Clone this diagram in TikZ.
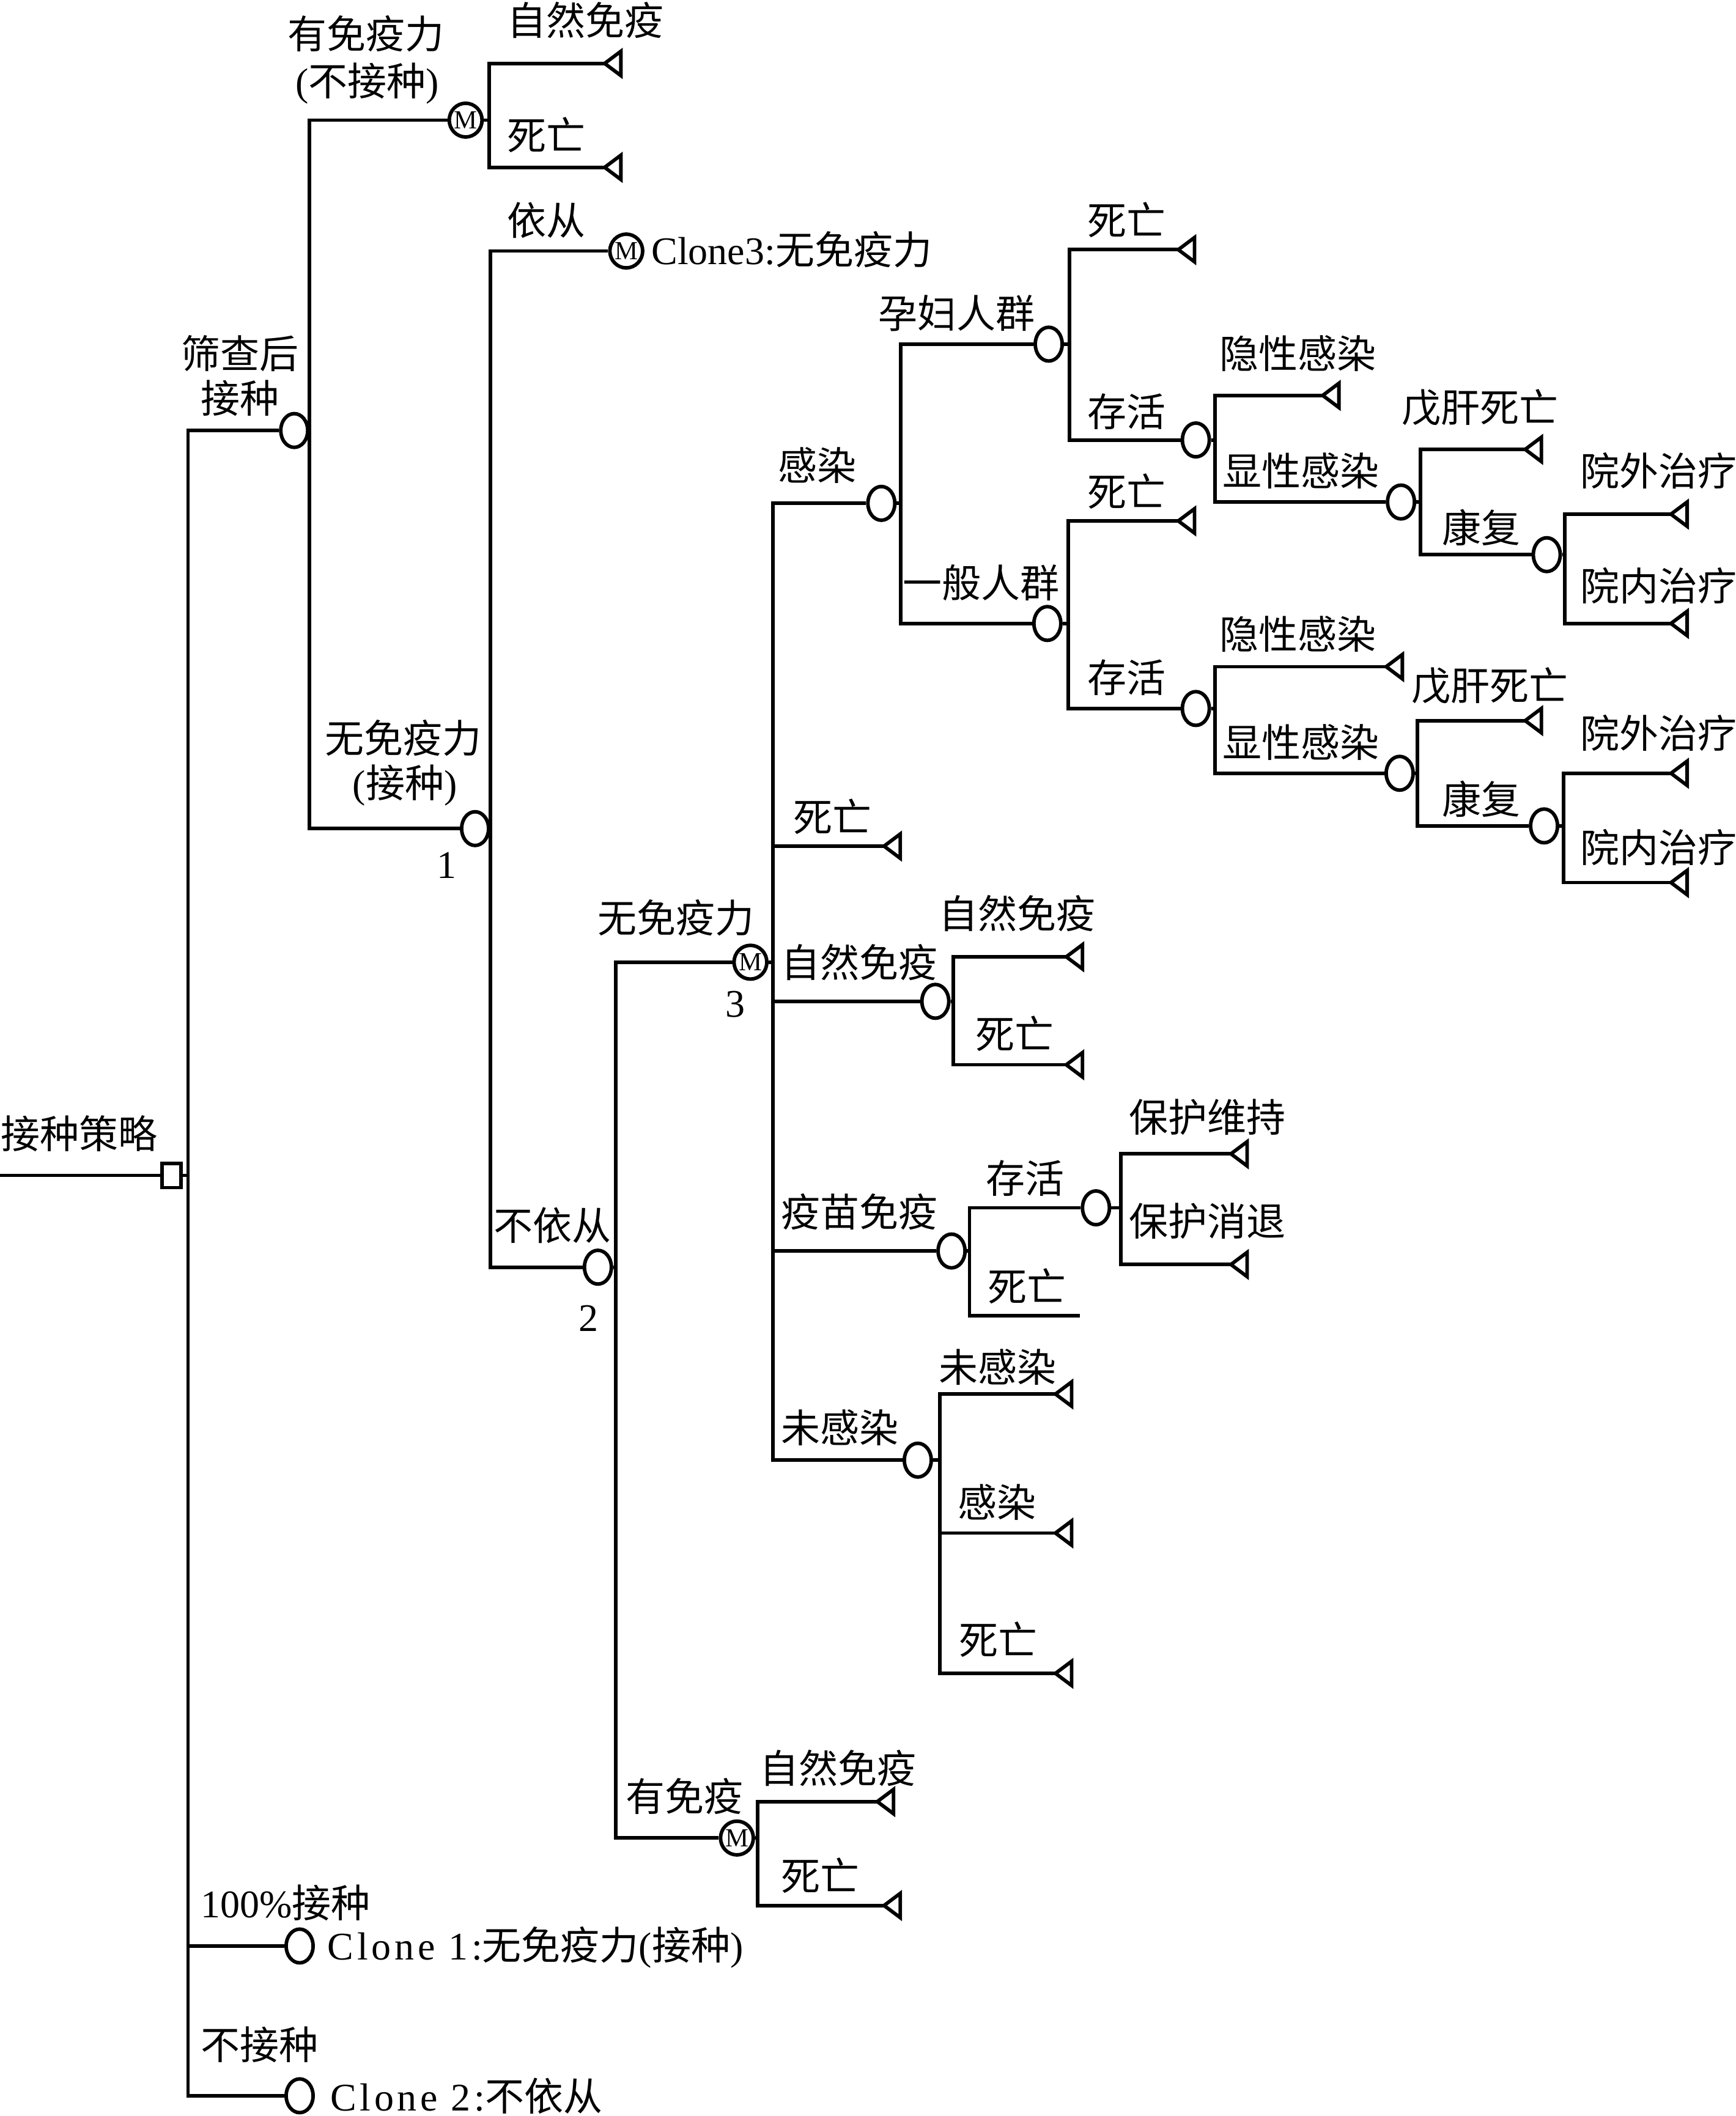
\documentclass[tikz,border=0pt]{standalone}
\usepackage{fontspec}
\setmainfont{Liberation Serif}
\newfontfamily\cjk{Noto Sans CJK SC}
\newfontfamily\wideserif[LetterSpace=9]{Liberation Serif}
\usetikzlibrary{shapes.geometric}
\tikzset{
  ln/.style={line width=0.75pt},
  ch/.style={ellipse, draw, line width=0.75pt, minimum width=2.0mm, minimum height=2.5mm, inner sep=0pt},
  mk/.style={ch, font=\rmfamily\fontsize{5.5pt}{5.5pt}\selectfont},
  dec/.style={rectangle, draw, line width=0.75pt, minimum width=1.4mm, minimum height=1.8mm, inner sep=0pt},
  lbl/.style={anchor=west, inner sep=0pt, font=\cjk\fontsize{8.25pt}{10pt}\selectfont},
  lblc/.style={lbl, anchor=center},
  term/.pic={\draw[line width=0.75pt] (0,0) -- (12,-9) -- (12,9) -- cycle;}
}
\newcommand\lab[4]{\node[lbl] (#1) at (#2,#3) {#4};}
\newcommand\labc[4]{\node[lblc] (#1) at (#2,#3) {#4};}
\newcommand\term[3]{\coordinate (#1) at (#2,#3); \pic at (#1) {term};}
\begin{document}
\begin{tikzpicture}[x=0.1mm, y=-0.1mm]
\useasboundingbox (0,0) rectangle (1286,1568);

% ---------- nodes ----------
\node[dec] (root) at (127,871) {};
\coordinate (start) at (0,871);
\node[ch] (cS) at (218,319) {};
\node[ch] (c100) at (222,1442) {};
\node[ch] (c0) at (222,1553) {};
\node[mk] (cImm) at (345,89) {M};
\node[ch] (c1) at (352,614) {};
\node[mk] (cC) at (464,186) {M};
\node[ch] (c2) at (443,939) {};
\node[mk] (cNo) at (556,713) {M};
\node[mk] (cHas) at (546,1362) {M};
\node[ch] (cInf) at (653,373) {};
\node[ch] (cNat) at (693,742) {};
\node[ch] (cVac) at (705,927) {};
\node[ch] (cSv) at (812,895) {};
\node[ch] (cUn) at (680,1082) {};
\node[ch] (cPreg) at (777,255) {};
\node[ch] (cPS) at (886,326) {};
\node[ch] (cPV) at (1038,372) {};
\node[ch] (cPR) at (1146,411) {};
\node[ch] (cGen) at (776,462) {};
\node[ch] (cGS) at (886,525) {};
\node[ch] (cGV) at (1037,573) {};
\node[ch] (cGR) at (1144,612) {};

% terminals
\term{tI1}{448}{47}
\term{tI2}{448}{124}
\term{tH1}{650}{1335}
\term{tH2}{655}{1412}
\term{tD}{655}{627}
\term{tN1}{790}{709}
\term{tN2}{790}{789}
\coordinate (eVD) at (800,975);
\term{tS1}{912}{855}
\term{tS2}{912}{937}
\term{tU1}{782}{1033}
\term{tU2}{782}{1136}
\term{tU3}{782}{1240}
\term{tP1}{873}{185}
\term{tPS}{980}{293}
\term{tPV}{1130}{333}
\term{tPR1}{1238}{381}
\term{tPR2}{1238}{462}
\term{tG1}{873}{386}
\term{tGS}{1027}{494}
\term{tGV}{1130}{534}
\term{tGR1}{1238}{573}
\term{tGR2}{1238}{654}

% ---------- connectors ----------
\begin{scope}[ln]
\draw (start) -- (root.west);
\draw (root.east) -- ++(4,0) coordinate (jR);
\draw (jR) |- (cS.west);
\draw (jR) |- (c100.west);
\draw (jR) |- (c0.west);

\draw (cS.east) |- (cImm.west);
\draw (cS.east) |- (c1.west);

\draw (cImm.east) -- ++(4,0) coordinate (jI);
\draw (jI) |- (tI1);
\draw (jI) |- (tI2);

\draw (c1.east) |- (cC.west);
\draw (c1.east) |- (c2.west);

\draw (c2.east) -- ++(2,0) coordinate (j2);
\draw (j2) |- (cNo.west);
\draw (j2) |- (cHas.west);

\draw (cHas.east) -- ++(2,0) coordinate (jH);
\draw (jH) |- (tH1);
\draw (jH) |- (tH2);

\draw (cNo.east) -- ++(3,0) coordinate (jN);
\draw (jN) |- (cInf.west);
\draw (jN) |- (tD);
\draw (jN) |- (cNat.west);
\draw (jN) |- (cVac.west);
\draw (jN) |- (cUn.west);

\draw (cNat.east) -- ++(2,0) coordinate (jNa);
\draw (jNa) |- (tN1);
\draw (jNa) |- (tN2);

\draw (cVac.east) -- ++(2,0) coordinate (jV);
\draw (jV) |- (cSv.west);
\draw (jV) |- (eVD);

\draw (cSv.east) -- ++(7,0) coordinate (jS);
\draw (jS) |- (tS1);
\draw (jS) |- (tS2);

\draw (cUn.east) -- ++(5,0) coordinate (jU);
\draw (jU) |- (tU1);
\draw (jU) |- (tU2);
\draw (jU) |- (tU3);

\draw (cInf.east) -- ++(3,0) coordinate (jInf);
\draw (jInf) |- (cPreg.west);
\draw (jInf) |- (cGen.west);

\draw (cPreg.east) -- ++(4,0) coordinate (jP);
\draw (jP) |- (tP1);
\draw (jP) |- (cPS.west);
\draw (cPS.east) -- ++(3,0) coordinate (jPS);
\draw (jPS) |- (tPS);
\draw (jPS) |- (cPV.west);
\draw (cPV.east) -- ++(3,0) coordinate (jPV);
\draw (jPV) |- (tPV);
\draw (jPV) |- (cPR.west);
\draw (cPR.east) -- ++(2,0) coordinate (jPR);
\draw (jPR) |- (tPR1);
\draw (jPR) |- (tPR2);

\draw (cGen.east) -- ++(4,0) coordinate (jG);
\draw (jG) |- (tG1);
\draw (jG) |- (cGS.west);
\draw (cGS.east) -- ++(3,0) coordinate (jGS);
\draw (jGS) |- (tGS);
\draw (jGS) |- (cGV.west);
\draw (cGV.east) -- ++(2,0) coordinate (jGV);
\draw (jGV) |- (tGV);
\draw (jGV) |- (cGR.west);
\draw (cGR.east) -- ++(3,0) coordinate (jGR);
\draw (jGR) |- (tGR1);
\draw (jGR) |- (tGR2);
\end{scope}

% ---------- labels ----------
\lab{l1}{0}{840}{接种策略}
\labc{l2}{178}{262}{筛查后}
\labc{l3}{178}{295}{接种}
\labc{l4}{271}{25}{有免疫力}
\labc{l5}{272}{62}{{\rmfamily(}不接种{\rmfamily)}}
\lab{l6}{375}{15}{自然免疫}
\lab{l7}{375}{100}{死亡}
\labc{l8}{299}{547}{无免疫力}
\labc{l9}{300}{582}{{\rmfamily(}接种{\rmfamily)}}
\labc{n1}{331}{641}{\rmfamily 1}
\lab{l10}{375}{163}{依从}
\lab{l11}{482}{185}{{\rmfamily Clone3:}无免疫力}
\lab{l12}{365}{908}{不依从}
\labc{n2}{436}{977}{\rmfamily 2}
\lab{l13}{442}{680}{无免疫力}
\labc{n3}{545}{744}{\rmfamily 3}
\lab{l14}{463}{1331}{有免疫}
\lab{l15}{562}{1310}{自然免疫}
\lab{l16}{578}{1390}{死亡}
\lab{l17}{576}{345}{感染}
\lab{l18}{587}{605}{死亡}
\lab{l19}{578}{713}{自然免疫}
\lab{l20}{695}{677}{自然免疫}
\lab{l21}{722}{766}{死亡}
\lab{l22}{578}{898}{疫苗免疫}
\lab{l23}{730}{873}{存活}
\lab{l24}{731}{953}{死亡}
\lab{l25}{836}{828}{保护维持}
\lab{l26}{836}{905}{保护消退}
\lab{l27}{578}{1058}{未感染}
\lab{l28}{695}{1013}{未感染}
\lab{l29}{709}{1113}{感染}
\lab{l30}{710}{1215}{死亡}
\lab{l31}{650}{232}{孕妇人群}
\lab{l32}{668}{432}{一般人群}
\lab{l33}{805}{163}{死亡}
\lab{l34}{805}{305}{存活}
\lab{l35}{903}{262}{隐性感染}
\lab{l36}{905}{349}{显性感染}
\lab{l37}{1038}{302}{戊肝死亡}
\lab{l38}{1068}{391}{康复}
\lab{l39}{1170}{349}{院外治疗}
\lab{l40}{1170}{434}{院内治疗}
\lab{l41}{805}{364}{死亡}
\lab{l42}{805}{502}{存活}
\lab{l43}{903}{470}{隐性感染}
\lab{l44}{905}{550}{显性感染}
\lab{l45}{1045}{508}{戊肝死亡}
\lab{l46}{1068}{592}{康复}
\lab{l47}{1170}{543}{院外治疗}
\lab{l48}{1170}{628}{院内治疗}
\lab{l49}{148}{1410}{{\rmfamily 100\%}接种}
\lab{l50}{242}{1443}{{\wideserif Clone 1:}无免疫力{\rmfamily(}接种{\rmfamily)}}
\lab{l51}{148}{1515}{不接种}
\lab{l52}{244}{1553}{{\wideserif Clone 2:}不依从}
\end{tikzpicture}
\end{document}
